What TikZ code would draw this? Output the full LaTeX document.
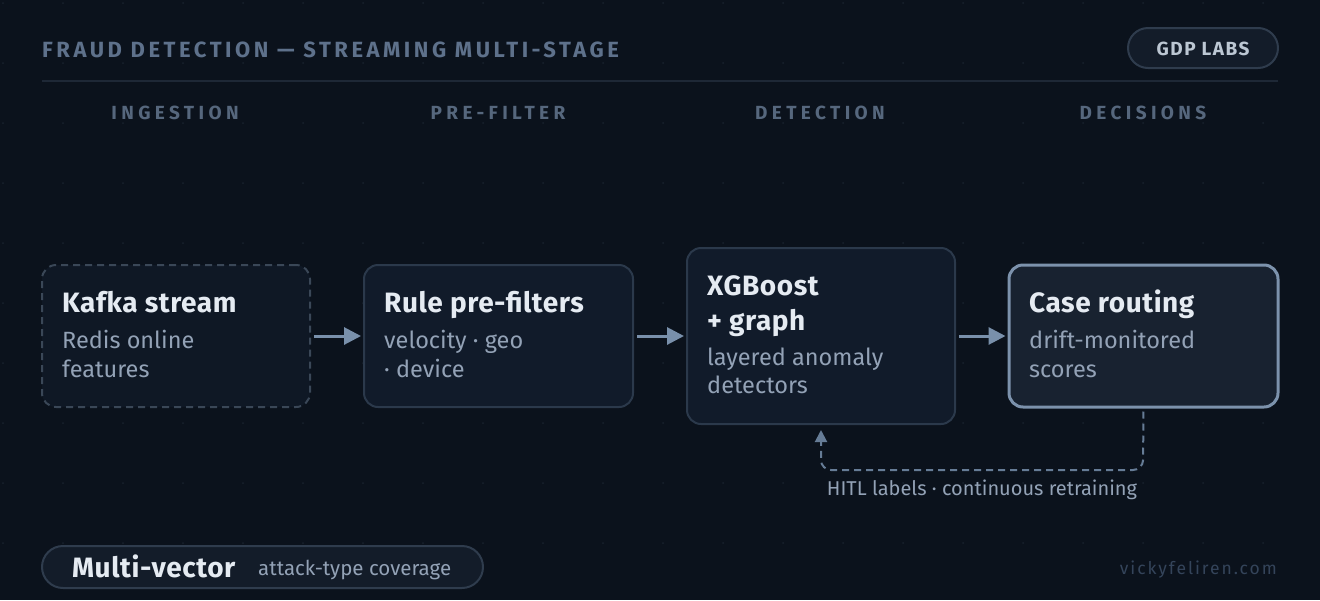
\documentclass[tikz,border=0pt]{standalone}
\usepackage{fontspec}
\setmainfont{Fira Sans}
\newfontfamily\titlefont[LetterSpace=16]{Fira Sans}
\newfontfamily\colfont[LetterSpace=23]{Fira Sans}
\newfontfamily\pillfont[LetterSpace=8]{Fira Sans}
\newfontfamily\urlfont[LetterSpace=11]{Fira Sans}
\newfontfamily\boxttlfont[LetterSpace=2]{Fira Sans}
\usetikzlibrary{arrows.meta}
\definecolor{bg}{HTML}{0B121C}
\definecolor{dotc}{HTML}{18212D}
\definecolor{titlec}{HTML}{5E718B}
\definecolor{hlinec}{HTML}{1E2836}
\definecolor{colc}{HTML}{56677D}
\definecolor{boxfill}{HTML}{111B2A}
\definecolor{boxline}{HTML}{2B394B}
\definecolor{kafkafill}{HTML}{0F1825}
\definecolor{kafkaline}{HTML}{3A4757}
\definecolor{caseline}{HTML}{7C92AC}
\definecolor{casefill}{HTML}{182230}
\definecolor{ttlc}{HTML}{E5EBF2}
\definecolor{subc}{HTML}{93A2B6}
\definecolor{arrc}{HTML}{7990AB}
\definecolor{fbc}{HTML}{667C96}
\definecolor{pillfill}{HTML}{131C29}
\definecolor{pillline}{HTML}{2F3C4D}
\definecolor{gdpc}{HTML}{BCC7D3}
\definecolor{urlc}{HTML}{34445A}
\tikzset{
  stagebox/.style={draw=boxline, fill=boxfill, line width=2pt, rounded corners=14pt, inner sep=0pt},
  ttl/.style={anchor=base west, inner sep=0pt, text=ttlc, font=\boxttlfont\fontsize{28}{32}\selectfont\bfseries},
  sub/.style={anchor=base west, inner sep=0pt, text=subc, font=\fontsize{23.5}{28}\selectfont},
  colhead/.style={anchor=base, inner sep=0pt, text=colc, font=\colfont\fontsize{19}{22}\selectfont\bfseries},
  flow/.style={draw=arrc, line width=3pt, -{Triangle[length=17pt,width=17pt]}, shorten <=3pt, shorten >=2pt},
  feedback/.style={draw=fbc, line width=2pt, dash pattern=on 7pt off 5pt, rounded corners=10pt, -{Triangle[length=12pt,width=12pt]}},
  pill/.style={draw=pillline, fill=pillfill, line width=2pt, inner sep=0pt},
}
\begin{document}
\begin{tikzpicture}[x=1pt,y=-1pt]
\useasboundingbox (0,0) rectangle (1320,600);
\fill[bg] (0,0) rectangle (1320,600);
\foreach \i in {0,...,21} \foreach \j in {0,...,9} \fill[dotc] (3+60*\i,3+60*\j) circle (1pt);

% header
\node[anchor=base west, inner sep=0pt, text=titlec, font=\titlefont\fontsize{22}{26}\selectfont\bfseries] (title) at (42,57) {FRAUD DETECTION — STREAMING MULTI-STAGE};
\node[pill, rounded corners=20pt, minimum width=150pt, minimum height=40pt] (gdp) at (1203,48) {};
\node[anchor=base, inner sep=0pt, text=gdpc, font=\pillfont\fontsize{19}{22}\selectfont\bfseries] (gdpt) at (1203,55) {GDP LABS};
\draw[hlinec, line width=2pt] (42,81) -- (1278,81);

% column headers
\node[colhead] (c1) at (175,119) {INGESTION};
\node[colhead] (c2) at (498,119) {PRE-FILTER};
\node[colhead] (c3) at (820,119) {DETECTION};
\node[colhead] (c4) at (1143,119) {DECISIONS};

% boxes
\node[stagebox, draw=kafkaline, fill=kafkafill, dash pattern=on 7pt off 5pt, minimum width=268pt, minimum height=142pt] (kafka) at (176,336) {};
\node[stagebox, minimum width=269pt, minimum height=142pt] (rule) at (498.5,336) {};
\node[stagebox, minimum width=268pt, minimum height=176pt] (xg) at (821,336) {};
\node[stagebox, draw=caseline, fill=casefill, line width=3pt, minimum width=269pt, minimum height=142pt] (case) at (1143.5,336) {};

% box texts
\node[ttl] (kafkat) at (62,312) {Kafka stream};
\node[sub] (kafkas1) at (62,348) {Redis online};
\node[sub] (kafkas2) at (62,377) {features};

\node[ttl] (rulet) at (384,312) {Rule pre-filters};
\node[sub] (rules1) at (384,348) {velocity · geo};
\node[sub] (rules2) at (384,377) {· device};

\node[ttl] (xgt1) at (707,295) {XGBoost};
\node[ttl] (xgt2) at (707,330) {+ graph};
\node[sub] (xgs1) at (707,365) {layered anomaly};
\node[sub] (xgs2) at (707,393) {detectors};

\node[ttl] (caset) at (1029,312) {Case routing};
\node[sub] (cases1) at (1029,348) {drift-monitored};
\node[sub] (cases2) at (1029,377) {scores};

% flow arrows
\draw[flow] (kafka) -- (rule);
\draw[flow] (rule) -- (xg);
\draw[flow] (xg) -- (case);

% feedback loop
\coordinate (fbr) at (1143,470);
\coordinate (fbl) at (821,470);
\draw[feedback, shorten <=3pt, shorten >=5pt] (case.south) -- (fbr) -- (fbl) -- (xg.south);
\node[anchor=base, inner sep=0pt, text=subc, font=\fontsize{20}{24}\selectfont] (fbt) at (982,495) {HITL labels · continuous retraining};

% bottom
\node[pill, rounded corners=21pt, minimum width=441pt, minimum height=42pt] (mv) at (262.5,567) {};
\node[anchor=base west, inner sep=0pt, text=ttlc, font=\boxttlfont\fontsize{28}{32}\selectfont\bfseries] (mvt) at (72,577) {Multi-vector};
\node[anchor=base west, inner sep=0pt, text=subc, font=\fontsize{20.5}{24}\selectfont] (mvs) at (258,575) {attack-type coverage};
\node[anchor=base east, inner sep=0pt, text=urlc, font=\urlfont\fontsize{17.5}{20}\selectfont] (url) at (1277,574) {vickyfeliren.com};
\end{tikzpicture}
\end{document}
